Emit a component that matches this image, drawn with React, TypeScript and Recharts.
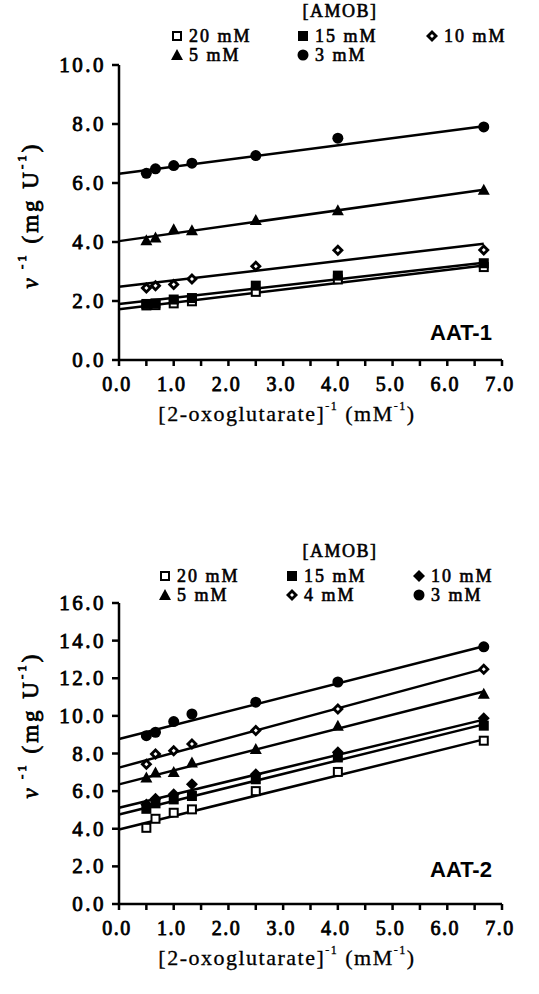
import React from "react"
import { ScatterChart, Scatter, XAxis, YAxis, Label } from "recharts"

// reciprocal substrate concentrations (x) shared by every series
const xVals = [0.5, 0.667, 1.0, 1.333, 2.5, 4.0, 6.667]
const fitX = [0, 6.667]
const xTicks = [0, 0.5, 1, 1.5, 2, 2.5, 3, 3.5, 4, 4.5, 5, 5.5, 6, 6.5, 7]

// AAT-1
const aat1_20 = [1.85, 1.86, 1.92, 1.99, 2.31, 2.73, 3.15]
const aat1_15 = [1.9, 1.92, 2.05, 2.1, 2.52, 2.86, 3.28]
const aat1_10 = [2.44, 2.52, 2.56, 2.75, 3.18, 3.72, 3.73]
const aat1_5 = [4.06, 4.15, 4.43, 4.4, 4.75, 5.08, 5.77]
const aat1_3 = [6.33, 6.48, 6.59, 6.67, 6.93, 7.52, 7.9]
const aat1Fit20 = [1.72, 3.2]
const aat1Fit15 = [1.9, 3.3]
const aat1Fit10 = [2.48, 3.94]
const aat1Fit5 = [4.03, 5.77]
const aat1Fit3 = [6.31, 7.92]
const aat1YTicks = [0, 2, 4, 6, 8, 10]

// AAT-2
const aat2_20 = [4.05, 4.53, 4.85, 5.03, 6.0, 7.02, 8.68]
const aat2_15 = [5.06, 5.35, 5.56, 5.74, 6.63, 7.79, 9.48]
const aat2_10 = [5.29, 5.6, 5.83, 6.36, 6.9, 8.06, 9.88]
const aat2_5 = [6.72, 6.99, 7.02, 7.52, 8.24, 9.48, 11.18]
const aat2_4 = [7.43, 7.97, 8.15, 8.5, 9.22, 10.37, 12.48]
const aat2_3 = [8.95, 9.13, 9.7, 10.1, 10.73, 11.8, 13.67]
const aat2Fit20 = [3.96, 8.75]
const aat2Fit15 = [4.76, 9.55]
const aat2Fit10 = [5.12, 9.8]
const aat2Fit5 = [6.36, 11.3]
const aat2Fit4 = [7.25, 12.5]
const aat2Fit3 = [8.77, 13.7]
const aat2YTicks = [0, 2, 4, 6, 8, 10, 12, 14, 16]

const toPts = (xs: number[], ys: number[]) => xs.map((x, i) => ({ x, y: ys[i] }))

const serif = "Liberation Serif, Times New Roman, serif"
const sans = "Liberation Sans, Arial, sans-serif"

type Kind = "openSquare" | "square" | "diamond" | "openDiamond" | "triangle" | "circle"

function markerEl(kind: Kind, cx: number, cy: number) {
  switch (kind) {
    case "openSquare":
      return <rect x={cx - 4} y={cy - 4} width={8} height={8} fill="#fff" stroke="#000" strokeWidth={2} />
    case "square":
      return <rect x={cx - 5} y={cy - 5} width={10} height={10} fill="#000" />
    case "diamond":
      return <polygon points={`${cx},${cy - 6} ${cx + 6},${cy} ${cx},${cy + 6} ${cx - 6},${cy}`} fill="#000" />
    case "openDiamond":
      return (
        <g>
          <polygon points={`${cx},${cy - 6} ${cx + 6},${cy} ${cx},${cy + 6} ${cx - 6},${cy}`} fill="#000" />
          <polygon points={`${cx},${cy - 2} ${cx + 2},${cy} ${cx},${cy + 2} ${cx - 2},${cy}`} fill="#fff" />
        </g>
      )
    case "triangle":
      return <polygon points={`${cx},${cy - 6} ${cx + 6},${cy + 5} ${cx - 6},${cy + 5}`} fill="#000" />
    default:
      return <circle cx={cx} cy={cy} r={5.5} fill="#000" />
  }
}

const shapeOf = (kind: Kind) => (p: any) => markerEl(kind, p.cx, p.cy)
const noShape = () => <g />

type Series = { name: string; kind: Kind; ys: number[]; fit: number[] }

const aat1Series: Series[] = [
  { name: "20 mM", kind: "openSquare", ys: aat1_20, fit: aat1Fit20 },
  { name: "15 mM", kind: "square", ys: aat1_15, fit: aat1Fit15 },
  { name: "10 mM", kind: "openDiamond", ys: aat1_10, fit: aat1Fit10 },
  { name: "5 mM", kind: "triangle", ys: aat1_5, fit: aat1Fit5 },
  { name: "3 mM", kind: "circle", ys: aat1_3, fit: aat1Fit3 },
]

const aat2Series: Series[] = [
  { name: "20 mM", kind: "openSquare", ys: aat2_20, fit: aat2Fit20 },
  { name: "15 mM", kind: "square", ys: aat2_15, fit: aat2Fit15 },
  { name: "10 mM", kind: "diamond", ys: aat2_10, fit: aat2Fit10 },
  { name: "5 mM", kind: "triangle", ys: aat2_5, fit: aat2Fit5 },
  { name: "4 mM", kind: "openDiamond", ys: aat2_4, fit: aat2Fit4 },
  { name: "3 mM", kind: "circle", ys: aat2_3, fit: aat2Fit3 },
]

// serif text thickened with a thin stroke, like the scanned bold Times
const boldSerif = { fontFamily: serif, fill: "#000", stroke: "#000", strokeWidth: 0.8 }

function XTick(props: any) {
  const { x, y, payload } = props
  if (!Number.isInteger(payload.value)) return <g />
  return (
    <text x={x - 2} y={y + 9} textAnchor="middle" dominantBaseline="hanging" fontSize={20} letterSpacing={1.5} {...boldSerif}>
      {payload.value.toFixed(1)}
    </text>
  )
}

function YTick(props: any) {
  const { x, y, payload } = props
  return (
    <text x={x - 4} y={y} textAnchor="end" dominantBaseline="central" fontSize={21} letterSpacing={2.5} {...boldSerif}>
      {payload.value.toFixed(1)}
    </text>
  )
}

function YTitle(props: any) {
  const { cx, cy } = props
  return (
    <text
      x={cx}
      y={cy}
      transform={`rotate(-90, ${cx}, ${cy})`}
      textAnchor="middle"
      dominantBaseline="central"
      fontSize={23}
      letterSpacing={3}
      {...boldSerif}
    >
      <tspan fontStyle="italic">v</tspan>
      <tspan dy={-9} fontSize={13}> -1</tspan>
      <tspan dy={9}>  (mg U</tspan>
      <tspan dy={-9} fontSize={13}>-1</tspan>
      <tspan dy={9}>)</tspan>
    </text>
  )
}

function XTitle(props: any) {
  const { cx, cy } = props
  return (
    <text x={cx} y={cy} textAnchor="middle" dominantBaseline="central" fontFamily={serif} fontSize={22} letterSpacing={1.5} fill="#000" stroke="#000" strokeWidth={0.3}>
      [2-oxoglutarate]
      <tspan dy={-7} fontSize={12}>-1</tspan>
      <tspan dy={7}> (mM</tspan>
      <tspan dy={-7} fontSize={12}>-1</tspan>
      <tspan dy={7}>)</tspan>
    </text>
  )
}

function LegendBlock({ series, top, cols, rowGap }: { series: Series[]; top: number; cols: number[]; rowGap: number }) {
  return (
    <div
      style={{
        position: "absolute",
        left: 0,
        top,
        width: 539,
        fontFamily: serif,
        fontSize: 18,
        lineHeight: "16px",
        WebkitTextStroke: "0.6px #000",
      }}
    >
      <div style={{ position: "absolute", left: 280, top: 0, width: 120, textAlign: "center", letterSpacing: 1.5 }}>[AMOB]</div>
      {series.map((s, i) => (
        <div
          key={s.name + i}
          style={{
            position: "absolute",
            left: cols[i % 3],
            top: 25 + Math.floor(i / 3) * rowGap,
            height: 16,
            display: "flex",
            alignItems: "center",
            letterSpacing: 2,
            whiteSpace: "nowrap",
          }}
        >
          <svg width={14} height={14} style={{ marginRight: 5 }}>
            {markerEl(s.kind, 7, 7)}
          </svg>
          <span>{s.name}</span>
        </div>
      ))}
    </div>
  )
}

function Panel({
  series,
  yMax,
  yTicks,
  marginTop,
  marginBottom,
  yTitleCy,
}: {
  series: Series[]
  yMax: number
  yTicks: number[]
  marginTop: number
  marginBottom: number
  yTitleCy: number
}) {
  return (
    <ScatterChart width={539} height={440} margin={{ top: marginTop, right: 37, left: 0, bottom: marginBottom }}>
      <XAxis
        type="number"
        dataKey="x"
        domain={[0, 7]}
        ticks={xTicks}
        interval={0}
        height={60}
        tick={<XTick />}
        tickSize={6}
        axisLine={{ stroke: "#000", strokeWidth: 2.5 }}
        tickLine={{ stroke: "#000", strokeWidth: 2.5 }}
      >
        <Label content={(p: any) => <XTitle cx={287} cy={p.viewBox.y + 53} />} />
      </XAxis>
      <YAxis
        type="number"
        dataKey="y"
        domain={[0, yMax]}
        ticks={yTicks}
        interval={0}
        width={119}
        tick={<YTick />}
        tickSize={7}
        axisLine={{ stroke: "#000", strokeWidth: 2.5 }}
        tickLine={{ stroke: "#000", strokeWidth: 2.5 }}
      >
        <Label content={() => <YTitle cx={30} cy={yTitleCy} />} />
      </YAxis>
      {series.map((s) => (
        <Scatter
          key={"fit" + s.name}
          data={toPts(fitX, s.fit)}
          line={{ stroke: "#000", strokeWidth: 2.5 }}
          shape={noShape}
          legendType="none"
          isAnimationActive={false}
        />
      ))}
      {series.map((s) => (
        <Scatter
          key={"pts" + s.name}
          name={s.name}
          data={toPts(xVals, s.ys)}
          shape={shapeOf(s.kind)}
          isAnimationActive={false}
        />
      ))}
    </ScatterChart>
  )
}

export default function App() {
  return (
    <div style={{ position: "absolute", left: 0, top: 0, width: 539, height: 994, background: "#fff" }}>
      <div style={{ position: "absolute", left: 0, top: 0 }}>
        <Panel series={aat1Series} yMax={10} yTicks={aat1YTicks} marginTop={65} marginBottom={20} yTitleCy={215} />
      </div>
      <LegendBlock series={aat1Series} top={3} cols={[170, 296, 425]} rowGap={19} />
      <div style={{ position: "absolute", left: 430, top: 320, fontFamily: sans, fontWeight: 700, fontSize: 22 }}>AAT-1</div>

      <div style={{ position: "absolute", left: 0, top: 540 }}>
        <Panel series={aat2Series} yMax={16} yTicks={aat2YTicks} marginTop={63} marginBottom={16} yTitleCy={185} />
      </div>
      <LegendBlock series={aat2Series} top={543} cols={[158, 285, 412]} rowGap={19} />
      <div style={{ position: "absolute", left: 430, top: 857, fontFamily: sans, fontWeight: 700, fontSize: 22 }}>AAT-2</div>
    </div>
  )
}
